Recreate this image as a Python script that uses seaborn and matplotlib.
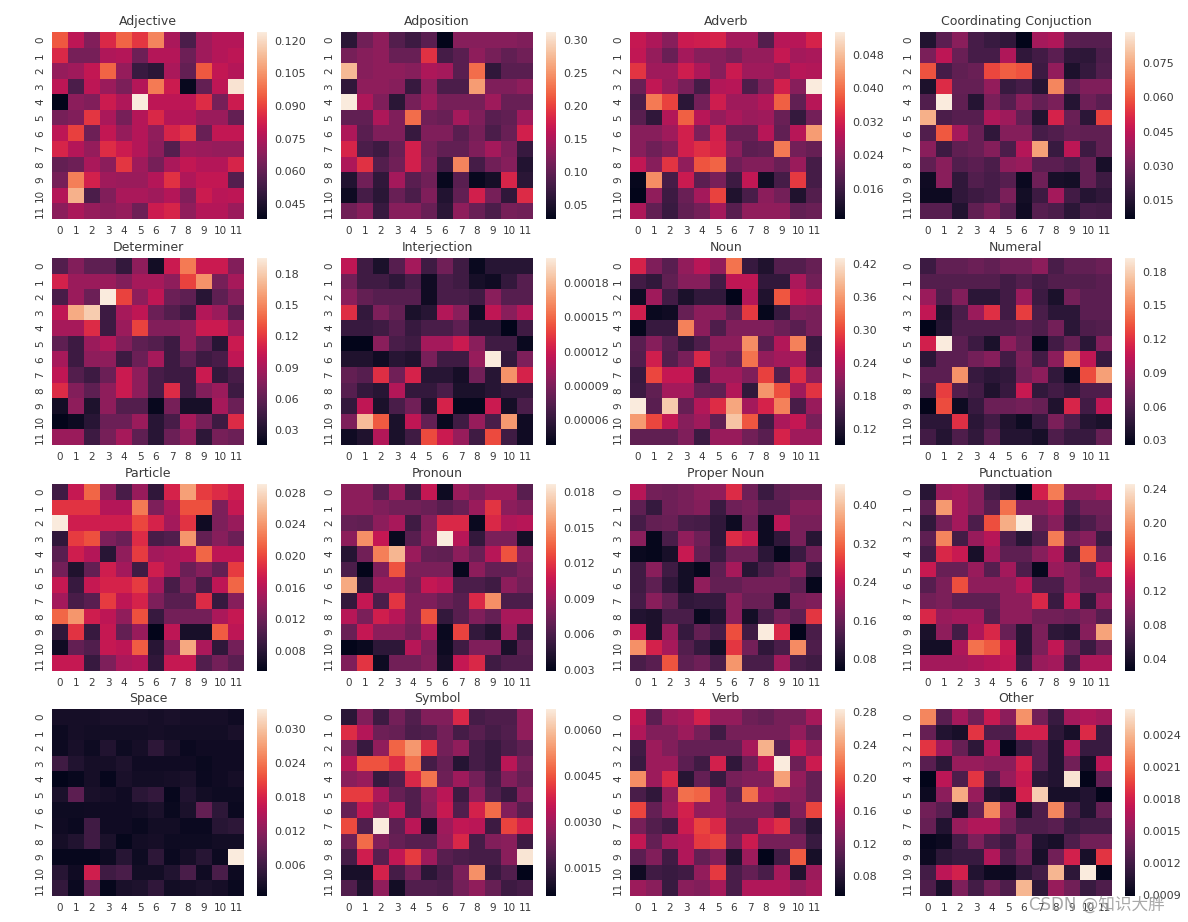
import numpy as np
import pandas as pd
import matplotlib
matplotlib.use("Agg")
import matplotlib.pyplot as plt
import seaborn as sns

titles = ["Adjective", "Adposition", "Adverb", "Coordinating Conjuction",
          "Determiner", "Interjection", "Noun", "Numeral",
          "Particle", "Pronoun", "Proper Noun", "Punctuation",
          "Space", "Symbol", "Verb", "Other"]

# Cell values, in the unit given in `units`
adjective = [
[94,78,66,85,96,88,102,74,55,72,76,76],[85,64,64,75,76,62,76,76,62,72,76,78],
[70,72,79,96,70,51,48,74,60,94,79,76],[78,55,78,71,65,76,100,81,40,60,78,122],
[38,68,66,81,75,124,78,78,78,86,64,81],[64,66,88,74,64,76,85,76,76,71,71,60],
[78,90,62,79,70,76,69,84,88,61,79,79],[84,76,70,86,81,76,68,57,72,71,70,70],
[60,62,74,68,88,72,64,74,79,76,76,84],[64,101,83,72,71,71,76,87,75,79,79,57],
[76,111,55,66,74,74,72,76,66,81,77,78],[68,74,70,68,70,62,81,84,69,76,76,71]]
adposition = [
[60,110,130,90,75,95,29,125,125,125,125,120],[115,125,130,105,105,190,80,95,130,115,100,110],
[275,125,130,130,125,150,145,95,225,65,95,95],[65,130,130,125,70,130,85,85,255,120,120,130],
[312,150,120,60,115,140,115,115,115,140,105,105],[100,100,150,120,225,110,105,145,120,95,100,140],
[150,95,120,120,70,120,120,95,115,85,105,175],[180,85,75,105,175,115,100,100,120,145,120,70],
[150,190,90,110,175,120,75,240,80,110,125,55],[55,110,65,145,95,110,35,95,35,45,180,60],
[40,80,60,105,85,120,55,100,175,115,65,185],[110,125,70,125,125,105,60,130,105,85,115,110]]
adverb = [
[305,280,240,310,315,325,270,270,185,290,290,325],[300,255,210,270,240,240,225,255,255,305,270,275],
[345,265,265,315,280,240,310,265,265,250,290,285],[210,300,260,225,170,285,290,180,230,320,240,535],
[175,410,360,140,220,315,265,265,285,385,200,290],[190,145,285,385,290,255,275,260,265,210,150,220],
[240,240,265,320,230,320,210,210,290,200,290,445],[240,215,235,320,340,325,245,195,200,410,220,205],
[300,240,345,250,375,390,215,235,235,210,260,170],[95,430,170,310,195,225,160,300,110,170,350,170],
[88,250,160,210,270,360,125,175,245,220,125,185],[280,200,155,200,220,270,190,250,250,250,200,210]]
coordinating = [
[140,260,350,220,190,170,67,400,420,260,250,250],[320,450,290,220,220,420,170,210,260,170,165,230],
[590,220,270,290,570,610,590,200,370,130,180,240],[130,520,280,280,370,190,220,150,680,280,330,330],
[240,886,270,150,320,250,350,280,320,150,300,260],[760,230,250,250,420,390,280,140,500,290,160,560],
[240,600,400,290,170,340,340,220,240,280,270,270],[350,200,270,290,340,230,430,730,190,450,200,270],
[270,350,240,260,230,360,380,260,260,230,280,120],[100,350,170,240,220,250,90,300,120,110,280,200],
[95,95,170,200,220,320,110,200,400,210,150,170],[250,250,140,270,320,250,100,250,230,160,220,210]]
determiner = [
[55,75,60,60,40,80,25,105,145,105,105,75],[110,85,85,85,75,90,90,80,125,155,70,90],
[50,85,65,195,125,80,100,65,60,35,60,75],[100,165,180,45,90,100,65,55,45,95,85,55],
[90,90,115,45,85,125,75,75,80,105,105,85],[60,45,85,95,75,60,55,45,80,60,35,105],
[90,45,80,80,45,65,90,45,60,45,50,100],[100,55,45,65,105,80,50,45,45,105,40,50],
[115,75,60,80,105,80,50,115,45,75,85,45],[25,80,30,80,55,55,20,70,27,27,90,65],
[16,22,35,65,65,85,35,50,90,70,45,115],[85,85,45,70,90,60,35,65,80,37,70,65]]
interjection = [
[115,65,50,75,105,65,85,65,42,55,55,55],[85,65,65,58,70,45,70,65,48,45,60,75],
[95,80,75,75,75,45,70,70,65,95,75,75],[130,60,90,80,50,55,110,95,45,115,95,110],
[62,62,65,75,62,70,70,78,55,55,38,65],[38,38,95,70,65,105,105,120,95,65,65,42],
[52,52,45,55,52,88,65,65,100,202,60,90],[80,75,130,85,125,55,55,47,85,55,165,125],
[75,60,55,110,60,60,70,50,50,55,60,60],[60,115,50,70,85,52,125,40,40,120,47,70],
[90,182,145,50,115,80,42,65,100,70,168,45],[45,52,110,50,65,140,120,100,65,140,65,45]]
noun = [
[270,200,170,215,245,215,330,140,120,165,165,180],[150,135,175,205,205,150,250,250,135,135,235,190],
[105,225,150,115,135,135,91,240,120,310,255,240],[265,100,105,180,210,210,175,290,95,140,200,195],
[95,140,140,340,210,160,200,200,200,185,170,195],[170,205,170,135,160,210,210,350,170,240,340,140],
[165,265,165,195,275,200,185,330,215,230,230,145],[140,300,255,255,145,225,225,200,295,165,280,210],
[145,175,230,230,180,175,240,135,355,305,225,285],[430,170,400,180,240,280,370,230,270,340,155,220],
[360,300,255,205,225,175,395,310,150,235,255,195],[175,175,175,200,145,220,220,190,170,270,225,225]]
numeral = [
[52,68,68,72,68,75,75,85,58,68,68,72],[62,62,62,62,62,55,62,55,62,62,62,65],
[90,60,80,45,45,55,90,52,38,75,65,65],[105,40,58,90,120,55,125,58,45,45,65,65],
[26,42,60,60,60,60,65,60,75,45,60,62],[112,192,65,52,38,85,70,28,55,70,45,80],
[45,65,65,75,82,55,78,55,85,145,105,50],[65,65,155,50,45,48,75,85,48,30,130,160],
[58,125,62,55,40,50,108,48,55,48,60,60],[27,130,32,50,72,72,75,70,40,115,55,105],
[45,45,120,45,55,40,32,50,78,60,42,38],[55,42,60,48,65,42,42,36,60,50,50,70]]
particle = [
[95,170,215,140,100,145,85,180,245,195,185,175],[190,190,190,160,160,225,130,155,205,205,130,170],
[291,175,175,175,175,200,180,150,190,65,130,145],[85,195,205,130,120,185,100,105,240,115,135,120],
[110,175,160,80,140,195,150,155,160,215,165,165],[125,75,115,175,150,95,175,155,120,135,115,195],
[170,90,170,180,180,195,150,100,130,100,165,215],[150,100,110,195,165,180,130,110,110,185,90,135],
[215,240,175,165,140,205,90,125,125,125,155,170],[85,190,90,170,115,145,55,165,70,70,210,165],
[65,115,105,170,165,210,80,135,250,155,85,125],[170,170,90,130,155,160,85,170,170,105,125,110]]
pronoun = [
[85,85,65,90,55,105,35,90,80,90,90,65],[85,85,80,75,75,72,65,72,90,120,85,80],
[70,68,85,95,55,82,115,115,33,115,98,100],[85,150,105,33,65,85,187,100,50,78,78,38],
[45,75,145,165,90,70,68,85,72,100,130,85],[60,30,80,130,78,78,78,32,85,70,70,78],
[160,48,90,90,75,105,100,60,60,55,85,75],[50,105,60,120,80,80,72,65,115,150,60,60],
[100,78,110,100,80,130,50,65,80,70,95,95],[72,105,85,85,75,95,33,125,50,42,90,52],
[29,33,48,48,100,80,35,55,80,80,40,65],[80,120,35,75,75,82,38,105,115,55,62,62]]
proper_noun = [
[230,170,165,175,190,195,270,165,115,150,160,160],[150,110,165,175,185,115,165,175,145,145,185,185],
[125,155,160,130,125,105,70,165,70,235,175,175],[190,60,130,195,165,105,270,250,70,105,175,95],
[65,60,80,245,155,115,165,165,100,60,115,165],[120,190,120,75,60,150,215,95,130,160,190,110],
[120,150,105,75,195,155,155,170,170,170,150,60],[125,190,155,105,110,110,190,160,160,75,175,180],
[90,85,130,130,65,90,190,75,130,170,150,280],[240,85,205,110,155,125,300,120,444,265,55,130],
[355,260,215,140,110,75,280,170,105,130,350,135],[130,145,305,150,165,130,360,130,130,210,130,120]]
punctuation = [
[50,110,115,100,65,55,26,140,185,105,105,115],[80,200,115,100,75,180,100,100,115,70,90,90],
[55,90,115,70,165,210,246,85,100,60,70,85],[80,190,65,110,125,70,50,70,185,90,100,60],
[65,145,135,40,115,80,80,100,120,60,170,85],[135,85,85,110,75,115,70,30,110,100,80,130],
[75,95,165,105,105,105,125,70,70,100,85,85],[90,95,80,80,80,105,105,145,60,130,55,110],
[145,110,115,115,75,105,105,90,90,85,95,75],[42,105,65,120,145,85,50,95,52,48,100,205],
[38,38,120,180,170,135,50,95,130,85,60,85],[115,115,115,120,125,130,60,110,115,65,120,120]]
space = [
[25,25,25,28,28,28,25,28,25,25,25,20],[17,25,22,22,22,22,25,22,22,22,22,28],
[17,27,18,35,18,25,45,28,15,20,20,20],[60,35,25,25,32,20,20,20,20,14,20,20],
[6,13,25,12,28,22,22,25,28,15,20,25],[30,85,28,25,20,42,50,12,35,22,18,18],
[18,18,20,20,20,22,30,14,30,90,45,15],[20,15,62,20,20,14,22,22,15,15,40,45],
[25,35,62,30,10,22,25,18,18,18,22,22],[12,12,12,18,40,18,45,15,25,40,17,335],
[40,20,175,60,70,22,22,35,70,20,70,17],[50,15,90,10,28,32,48,22,25,30,25,14]]
symbol = [
[130,260,160,240,190,260,260,390,170,185,185,280],[400,330,230,220,180,190,240,170,200,170,190,280],
[250,150,280,470,540,410,240,280,170,150,180,210],[340,450,450,400,490,170,220,120,170,150,340,240],
[270,290,150,190,390,490,230,300,240,170,260,220],[420,420,320,220,190,280,340,160,280,190,150,260],
[220,350,270,340,190,270,360,190,380,480,260,200],[440,190,670,210,340,100,300,350,340,160,430,380],
[230,480,260,220,200,200,290,390,170,260,270,160],[170,370,200,350,420,300,200,180,170,170,270,660],
[100,100,380,170,240,130,170,250,530,150,190,60],[190,110,280,90,190,190,180,240,280,220,160,170]]
verb = [
[165,110,145,150,175,140,140,120,115,125,125,150],[155,130,130,145,125,95,125,125,125,125,140,115],
[95,145,130,115,115,115,115,150,250,110,165,140],[90,145,145,110,95,175,85,120,165,284,120,170],
[230,145,180,80,115,90,125,130,130,240,140,115],[100,85,140,215,210,145,110,215,150,140,135,115],
[195,115,145,175,140,145,125,125,125,100,130,195],[125,105,95,170,195,180,115,115,170,185,105,80],
[165,115,150,155,190,195,125,170,125,125,125,90],[110,130,95,155,115,130,75,145,56,95,205,70],
[65,95,90,95,140,190,100,115,100,150,75,145],[145,135,90,135,130,150,100,155,155,155,140,150]]
other = [
[220,130,160,140,175,150,225,140,115,160,165,160],[135,105,100,190,125,125,180,180,110,100,185,115],
[190,160,135,110,165,92,115,130,105,165,115,115],[130,110,155,155,150,150,180,130,105,140,100,170],
[89,170,125,190,125,155,175,110,105,260,90,135],[95,150,235,155,105,100,180,250,100,100,105,90],
[140,130,100,135,220,150,100,125,220,125,105,135],[135,105,155,165,165,140,125,125,130,115,120,120],
[92,95,120,145,125,115,145,105,100,125,140,140],[95,110,115,115,165,125,140,100,140,180,100,190],
[120,170,180,105,95,95,110,120,240,110,264,92],[125,100,145,120,140,125,240,110,155,140,115,125]]

matrices = [adjective, adposition, adverb, coordinating, determiner, interjection, noun, numeral,
            particle, pronoun, proper_noun, punctuation, space, symbol, verb, other]
units = [1e-3, 1e-3, 1e-4, 1e-4, 1e-3, 1e-6, 1e-3, 1e-3,
         1e-4, 1e-4, 1e-3, 1e-3, 1e-4, 1e-5, 1e-3, 1e-5]
cbar_ticks = [
    ["0.045","0.060","0.075","0.090","0.105","0.120"],
    ["0.05","0.10","0.15","0.20","0.25","0.30"],
    ["0.016","0.024","0.032","0.040","0.048"],
    ["0.015","0.030","0.045","0.060","0.075"],
    ["0.03","0.06","0.09","0.12","0.15","0.18"],
    ["0.00006","0.00009","0.00012","0.00015","0.00018"],
    ["0.12","0.18","0.24","0.30","0.36","0.42"],
    ["0.03","0.06","0.09","0.12","0.15","0.18"],
    ["0.008","0.012","0.016","0.020","0.024","0.028"],
    ["0.003","0.006","0.009","0.012","0.015","0.018"],
    ["0.08","0.16","0.24","0.32","0.40"],
    ["0.04","0.08","0.12","0.16","0.20","0.24"],
    ["0.006","0.012","0.018","0.024","0.030"],
    ["0.0015","0.0030","0.0045","0.0060"],
    ["0.08","0.12","0.16","0.20","0.24","0.28"],
    ["0.0009","0.0012","0.0015","0.0018","0.0021","0.0024"],
]
labels = list(range(12))
watermark = "CSDN @知识大胖"

sns.set_theme(style="white")
plt.rcParams["font.family"] = ["DejaVu Sans", "Noto Sans CJK SC"]

W, H = 1188, 922
fig = plt.figure(figsize=(W / 100, H / 100), dpi=100, facecolor="white")
lefts = [52, 341, 630, 920]
tops = [32, 258, 484, 709]
w, h = 192, 187
TXT = "#3a3a3a"

for i, (title, mat, unit, ticks) in enumerate(zip(titles, matrices, units, cbar_ticks)):
    l, t = lefts[i % 4], tops[i // 4]
    ax = fig.add_axes([l / W, 1 - (t + h) / H, w / W, h / H])
    cax = fig.add_axes([(l + 205) / W, 1 - (t + h) / H, 10 / W, h / H])
    df = pd.DataFrame(np.array(mat, dtype=float) * unit, index=labels, columns=labels)
    sns.heatmap(df, ax=ax, cbar_ax=cax, cmap="rocket", xticklabels=labels, yticklabels=labels)
    ax.set_title(title, fontsize=9, color=TXT, pad=5)
    ax.tick_params(length=0, labelsize=7.5, labelcolor=TXT, pad=5)
    ax.tick_params(axis="y", labelrotation=90)
    for lab in ax.get_yticklabels():
        lab.set_va("center")
    ax.tick_params(axis="x", labelrotation=0)
    cax.set_yticks([float(s) for s in ticks], labels=ticks)
    cax.tick_params(length=0, labelsize=8, labelcolor=TXT, pad=5)
    for spine in cax.spines.values():
        spine.set_visible(False)

fig.text(1165 / W, 1 - 905 / H, watermark, ha="right", va="center", fontsize=12,
         color="#9a9a9a", alpha=0.85)
fig.savefig("out.png", dpi=100)
